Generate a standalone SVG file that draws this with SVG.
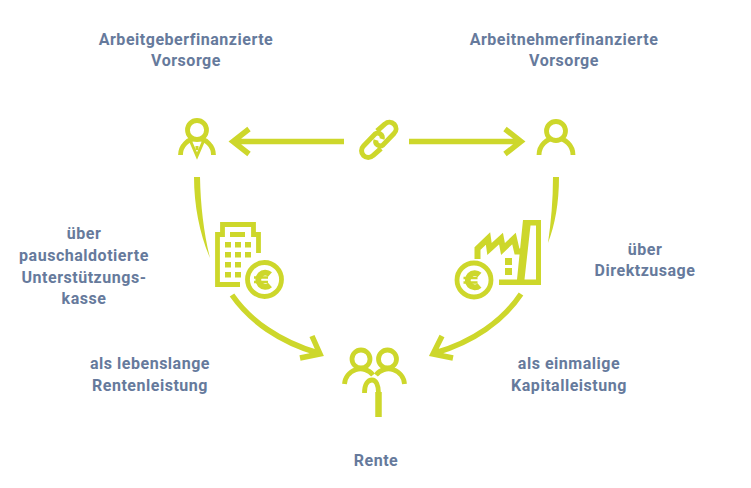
<svg xmlns="http://www.w3.org/2000/svg" width="751" height="488" viewBox="0 0 751 488">
<style>
text{font-family:Roboto,"Liberation Sans",sans-serif;font-weight:700;font-size:16px;fill:#667a9c;text-anchor:middle;letter-spacing:.52px}
.l{fill:none;stroke:#cdd72b;stroke-width:5.500}
.t{fill:none;stroke:#cdd72b;stroke-width:4.800}
.h{fill:#fff;stroke:#cdd72b;stroke-width:4.800}
.f{fill:#cdd72b}
</style>
<g id="connectors">
<path class="l" d="M344 141.500H236M249 129L233 141.500L249 154"/>
<path class="l" d="M409 141.500H519M505 129L521 141.500L505 154"/>
<path class="f" d="M194 177H200C200.500 206 204 234 210 258C200 235 194 206 194 177Z"/>
<path class="f" d="M553 177H559C559 203 555 225 548 243C551 222 553 200 553 177Z"/>
<path class="l" d="M232 295C250 321 280 342 318 353M312 336L320 354L300 358"/>
<path class="l" d="M521 294C503 321 473 342 435 353M442 336L433 354L453 358"/>
</g>
<g id="employer">
<path class="t" d="M180.500 155A16.500 16.500 0 0 1 213.500 155"/>
<path d="M190.500 141L197 156L203.500 141" fill="none" stroke="#cdd72b" stroke-width="3"/>
<circle class="h" cx="197" cy="130" r="9.500"/>
<rect class="f" x="195.500" y="146" width="3" height="4"/>
</g>
<g id="link" class="t" style="stroke-width:5">
<path d="M377 131L385 124A6.500 6.500 0 0 1 394 133.500L383 145A4.500 4.500 0 0 1 376 140"/>
<path d="M381 148.500L373 155.500A6.500 6.500 0 0 1 363.500 146L375 134A4.500 4.500 0 0 1 382 139"/>
</g>
<g id="employee">
<path class="t" d="M539 155A17 17 0 0 1 573 155"/>
<circle class="h" cx="556" cy="131" r="9.500"/>
</g>
<g id="building">
<path class="t" d="M240 284.500H217.500V234.500H222.500V224.500H253.500V234.500H258.500V253"/>
<rect class="f" x="230" y="232" width="15" height="5"/>
<g class="f">
<rect x="225" y="242" width="6" height="5.500"/><rect x="235" y="242" width="6" height="5.500"/><rect x="245" y="242" width="6" height="5.500"/>
<rect x="225" y="252" width="6" height="5.500"/><rect x="235" y="252" width="6" height="5.500"/><rect x="245" y="252" width="6" height="5.500"/>
<rect x="225" y="262" width="6" height="5.500"/><rect x="235" y="262" width="6" height="5.500"/>
<rect x="225" y="272" width="6" height="5.500"/><rect x="235" y="272" width="6" height="5.500"/>
</g>
<circle class="t" cx="264.500" cy="279.500" r="17"/>
<path d="M270 274.500A7 7 0 1 0 270 285" fill="none" stroke="#cdd72b" stroke-width="6"/>
<path d="M254 277.500H268M254 282H268" stroke="#cdd72b" stroke-width="2.500"/>
</g>
<g id="factory">
<path d="M477.500 259V248.500L488 238.500L489.500 249L501 238.500L503 249L514 238.500L517 251.500H525" fill="none" stroke="#cdd72b" stroke-width="6"/>
<path class="f" fill-rule="evenodd" d="M523 220H541V285H499V279.500H517ZM530.500 225.500L524.500 279.500H536V225.500Z"/>
<rect class="f" x="505" y="258" width="7" height="7"/>
<rect class="f" x="505" y="268" width="7" height="7"/>
<circle class="t" cx="474" cy="280" r="17"/>
<path d="M479.500 275A7 7 0 1 0 479.500 285.500" fill="none" stroke="#cdd72b" stroke-width="6"/>
<path d="M463.500 278H477.500M463.500 282.500H477.500" stroke="#cdd72b" stroke-width="2.500"/>
</g>
<g id="pension">
<path class="t" d="M344.500 384A16 16 0 0 1 373 375"/>
<path class="t" d="M404.500 384A16 16 0 0 0 376 375"/>
<circle class="h" cx="361" cy="359" r="9"/>
<circle class="h" cx="387.500" cy="359" r="9"/>
<path class="t" d="M364.500 393C364.500 384 368 380 372 380C376 380 378.500 385 378.500 393"/>
<path d="M378.500 392V417" fill="none" stroke="#cdd72b" stroke-width="6.500"/>
</g>
<g id="labels">
<text x="186" y="45">Arbeitgeberfinanzierte</text>
<text x="186" y="66">Vorsorge</text>
<text x="564" y="45">Arbeitnehmerfinanzierte</text>
<text x="564" y="66">Vorsorge</text>
<text x="84" y="239">über</text>
<text x="84" y="261">pauschaldotierte</text>
<text x="84" y="283">Unterstützungs-</text>
<text x="84" y="304">kasse</text>
<text x="645" y="255">über</text>
<text x="645" y="276">Direktzusage</text>
<text x="150" y="369">als lebenslange</text>
<text x="150" y="391">Rentenleistung</text>
<text x="569" y="369">als einmalige</text>
<text x="569" y="391">Kapitalleistung</text>
<text x="376" y="466">Rente</text>
</g>
</svg>
